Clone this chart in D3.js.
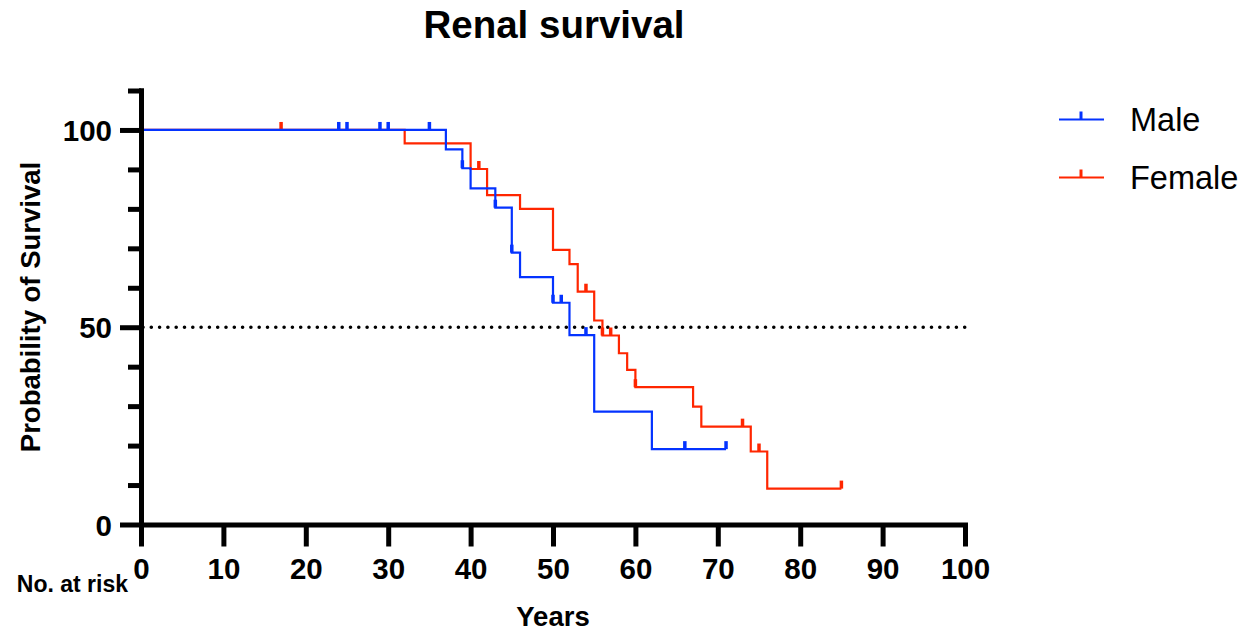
<!DOCTYPE html>
<html>
<head>
<meta charset="utf-8">
<script src="https://cdn.jsdelivr.net/npm/d3@7"></script>
<style>
  html, body { margin: 0; padding: 0; background: #ffffff; }
  svg { display: block; font-family: "Liberation Sans", Arial, Helvetica, sans-serif; }
</style>
</head>
<body>
<svg id="chart" width="1247" height="633"></svg>
<script>
// ---- Data ----
const maleTimes   = [0, 37, 39, 40, 43, 45, 46, 50, 52, 55, 62, 71];
const maleSurv    = [100, 95.1, 90.3, 85.2, 80.3, 68.9, 62.7, 56.2, 48.0, 28.6, 19.1, 19.1];
const maleCensor  = [24, 25, 29, 30, 35, 39, 43, 45, 50, 51, 54, 66, 71];

const femaleTimes  = [0, 32, 40, 42, 46, 50, 52, 53, 55, 56, 58, 59, 60, 67, 68, 74, 76, 85];
const femaleSurv   = [100, 96.6, 90.1, 83.5, 80.0, 69.6, 66.0, 59.0, 51.7, 47.9, 43.4, 39.2, 34.8, 29.9, 24.8, 18.5, 9.1, 9.1];
const femaleCensor = [17, 41, 54, 56, 57, 60, 73, 75, 85];

const xTicks = [0, 10, 20, 30, 40, 50, 60, 70, 80, 90, 100];
const yMajorTicks = [0, 50, 100];
const yMinorTicks = [10, 20, 30, 40, 60, 70, 80, 90, 110];
const medianLine = 50;

const seriesNames = ["Male", "Female"];
const seriesColors = ["#0433FF", "#FF2600"];

// ---- Scales ----
const svg = d3.select("#chart");
const x = d3.scaleLinear().domain([0, 100]).range([141, 965]);
const y = d3.scaleLinear().domain([0, 110]).range([524.5, 90.5]);

// ---- Title ----
svg.append("text")
  .attr("x", 554).attr("y", 38)
  .attr("text-anchor", "middle")
  .attr("font-size", 38.5).attr("font-weight", "bold")
  .text("Renal survival");

// ---- Median dotted line ----
svg.append("line")
  .attr("x1", x(0) + 2).attr("x2", x(100))
  .attr("y1", y(medianLine)).attr("y2", y(medianLine))
  .attr("stroke", "#000").attr("stroke-width", 3.6)
  .attr("stroke-linecap", "round")
  .attr("stroke-dasharray", "0 8.3");

// ---- Curves ----
function stepPath(times, surv) {
  const pts = times.map((t, i) => [t, surv[i]]);
  return d3.line().x(d => x(d[0])).y(d => y(d[1])).curve(d3.curveStepAfter)(pts);
}
function survAt(times, surv, t) {
  let s = surv[0];
  for (let i = 0; i < times.length; i++) { if (times[i] <= t) s = surv[i]; }
  return s;
}
const series = [
  { name: "Female", times: femaleTimes, surv: femaleSurv, cens: femaleCensor, color: seriesColors[1] },
  { name: "Male", times: maleTimes, surv: maleSurv, cens: maleCensor, color: seriesColors[0] }
];
series.forEach(s => {
  const g = svg.append("g");
  g.append("path")
    .attr("d", stepPath(s.times, s.surv))
    .attr("fill", "none")
    .attr("stroke", s.color)
    .attr("stroke-width", 2.2);
  g.selectAll("line.cens").data(s.cens).enter().append("line")
    .attr("class", "cens")
    .attr("x1", d => x(d)).attr("x2", d => x(d))
    .attr("y1", d => y(survAt(s.times, s.surv, d)))
    .attr("y2", d => y(survAt(s.times, s.surv, d)) - 8)
    .attr("stroke", s.color)
    .attr("stroke-width", 3.5);
});

// ---- Axes ----
const axisStyle = sel => {
  sel.selectAll("path.domain").attr("stroke", "#000").attr("stroke-width", 5).attr("stroke-linecap", "square");
  sel.selectAll(".tick line").attr("stroke", "#000").attr("stroke-width", 5);
};

// Y minor ticks
const yMinor = svg.append("g").attr("transform", `translate(${x(0)},0)`)
  .call(d3.axisLeft(y).tickValues(yMinorTicks).tickSize(13).tickSizeOuter(0).tickFormat(""));
axisStyle(yMinor);
// Y major ticks
const yMajor = svg.append("g").attr("transform", `translate(${x(0)},0)`)
  .call(d3.axisLeft(y).tickValues(yMajorTicks).tickSize(21).tickSizeOuter(0));
axisStyle(yMajor);
yMajor.selectAll(".tick text")
  .attr("x", -29).attr("dy", "0.36em")
  .attr("font-size", 29.5).attr("font-weight", "bold")
  .attr("font-family", "'Liberation Sans', Arial, sans-serif")
  .attr("fill", "#000");

// X axis
const xAxis = svg.append("g").attr("transform", `translate(0,${y(0)})`)
  .call(d3.axisBottom(x).tickValues(xTicks).tickSize(22).tickSizeOuter(0));
axisStyle(xAxis);
xAxis.selectAll(".tick text")
  .attr("y", 54.5).attr("dy", 0)
  .attr("font-size", 29.5).attr("font-weight", "bold")
  .attr("font-family", "'Liberation Sans', Arial, sans-serif")
  .attr("fill", "#000");

// ---- Axis titles ----
svg.append("text")
  .attr("transform", "translate(40,307) rotate(-90)")
  .attr("text-anchor", "middle")
  .attr("font-size", 27.5).attr("font-weight", "bold")
  .text("Probability of Survival");

svg.append("text")
  .attr("x", 553).attr("y", 626)
  .attr("text-anchor", "middle")
  .attr("font-size", 27.5).attr("font-weight", "bold")
  .text("Years");

svg.append("text")
  .attr("x", 128).attr("y", 592)
  .attr("text-anchor", "end")
  .attr("font-size", 23).attr("font-weight", "bold")
  .text("No. at risk");

// ---- Legend ----
const legend = svg.append("g");
seriesNames.forEach((name, i) => {
  const ly = 119.5 + i * 58;
  legend.append("line")
    .attr("x1", 1059).attr("x2", 1104).attr("y1", ly).attr("y2", ly)
    .attr("stroke", seriesColors[i]).attr("stroke-width", 2.2);
  legend.append("line")
    .attr("x1", 1081).attr("x2", 1081).attr("y1", ly).attr("y2", ly - 8)
    .attr("stroke", seriesColors[i]).attr("stroke-width", 3);
  legend.append("text")
    .attr("x", 1130).attr("y", ly + 11.5)
    .attr("font-size", 32.5)
    .text(name);
});
</script>
</body>
</html>
